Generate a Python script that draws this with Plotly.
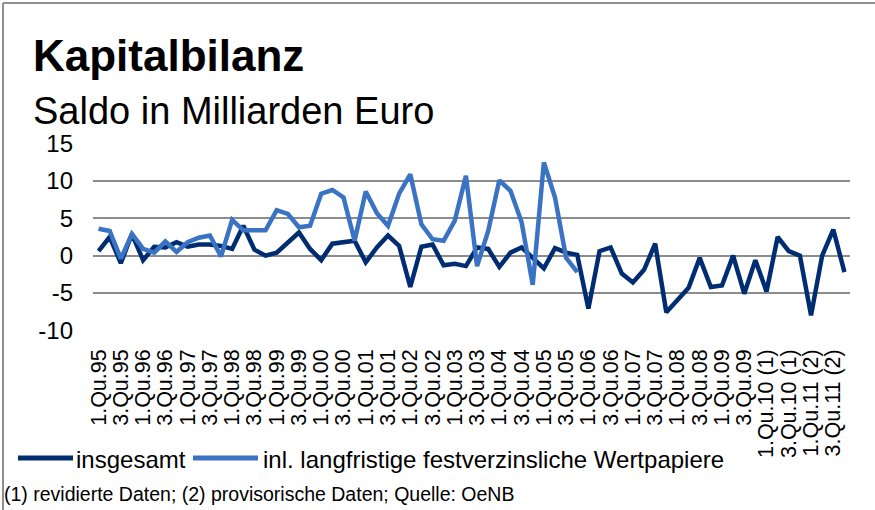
import plotly.graph_objects as go

# ---------------- data ----------------
years = [95, 96, 97, 98, 99, 0, 1, 2, 3, 4, 5, 6, 7, 8, 9, 10, 11]
year_suffix = {10: " (1)", 11: " (2)"}
categories = [f"{q}.Qu.{y:02d}{year_suffix.get(y, '')}" for y in years for q in (1, 2, 3, 4)]

tick_labels = [
    "1.Qu.95", "3.Qu.95", "1.Qu.96", "3.Qu.96", "1.Qu.97", "3.Qu.97",
    "1.Qu.98", "3.Qu.98", "1.Qu.99", "3.Qu.99", "1.Qu.00", "3.Qu.00",
    "1.Qu.01", "3.Qu.01", "1.Qu.02", "3.Qu.02", "1.Qu.03", "3.Qu.03",
    "1.Qu.04", "3.Qu.04", "1.Qu.05", "3.Qu.05", "1.Qu.06", "3.Qu.06",
    "1.Qu.07", "3.Qu.07", "1.Qu.08", "3.Qu.08", "1.Qu.09", "3.Qu.09",
    "1.Qu.10 (1)", "3.Qu.10 (1)", "1.Qu.11 (2)", "3.Qu.11 (2)",
]

insgesamt = [
    0.6, 2.5, -1.0, 2.9, -0.6, 1.2, 1.1, 1.8, 1.2, 1.5, 1.5, 1.3,
    0.9, 4.0, 0.8, 0.0, 0.4, 1.8, 3.1, 0.9, -0.6, 1.6, 1.8, 2.0,
    -0.9, 1.1, 2.7, 1.3, -4.2, 1.2, 1.5, -1.3, -1.1, -1.4, 1.1, 0.9,
    -1.5, 0.4, 1.1, -0.4, -1.7, 1.0, 0.4, 0.1, -7.1, 0.6, 1.1, -2.4,
    -3.6, -1.9, 1.6, -7.6, -6.0, -4.3, -0.3, -4.2, -4.0, 0.0, -5.1, -0.6,
    -4.8, 2.5, 0.6, 0.0, -8.0, 0.0, 3.5, -2.2,
]

wertpapiere = [
    3.6, 3.3, -0.4, 2.9, 0.9, 0.4, 1.9, 0.5, 1.8, 2.4, 2.7, -0.1,
    4.8, 3.4, 3.4, 3.4, 6.1, 5.6, 3.8, 4.0, 8.3, 8.8, 7.8, 2.0,
    8.6, 5.7, 4.0, 8.3, 10.9, 4.2, 2.2, 2.0, 4.7, 10.7, -1.4, 3.3,
    10.1, 8.7, 4.5, -3.9, 12.5, 7.8, -0.3, -2.2,
] + [None] * 24

y_ticks = [-10, -5, 0, 5, 10, 15]

# ---------------- layout geometry ----------------
W, H = 875, 510
ML, MR, MT, MB = 93, 25, 143, 179
PW, PH = W - ML - MR, H - MT - MB


def px_x(px):
    return (px - ML) / PW


def px_y(py):
    return (H - MB - py) / PH


DARK = "#002d72"
LIGHT = "#3a73c4"
FONT = "Liberation Sans, Arial, Helvetica, sans-serif"

fig = go.Figure()
fig.add_trace(go.Scatter(
    x=categories, y=insgesamt, mode="lines", name="insgesamt",
    line=dict(color=DARK, width=4.5), showlegend=False,
))
fig.add_trace(go.Scatter(
    x=categories, y=wertpapiere, mode="lines",
    name="inl. langfristige festverzinsliche Wertpapiere",
    line=dict(color=LIGHT, width=4.5), showlegend=False, connectgaps=False,
))

fig.update_layout(
    width=W, height=H,
    margin=dict(l=ML, r=MR, t=MT, b=MB, pad=0),
    paper_bgcolor="white", plot_bgcolor="white",
    font=dict(family=FONT, color="black"),
    showlegend=False,
)
fig.update_xaxes(
    type="category", range=[-0.5, len(categories) - 0.5],
    tickmode="array", tickvals=tick_labels, ticktext=tick_labels,
    tickangle=-90, tickfont=dict(size=21.5, family=FONT, color="black"),
    showgrid=False, zeroline=False, showline=False, ticks="",
    ticklabelstandoff=13, automargin=False,
)
fig.update_yaxes(
    range=[-10.1, 15.1], tickmode="array", tickvals=y_ticks,
    ticktext=[str(v) for v in y_ticks],
    tickfont=dict(size=24, family=FONT, color="black"),
    showgrid=True, gridcolor="#8c8c8c", gridwidth=1.6,
    zeroline=False, showline=False, ticks="", ticklabelstandoff=19,
    automargin=False,
)

# frame: top and left edges only
frame = dict(color="#8f8f8f", width=2)
fig.add_shape(type="line", xref="paper", yref="paper",
              x0=px_x(3), x1=px_x(W), y0=px_y(3), y1=px_y(3), line=frame, layer="below")
fig.add_shape(type="line", xref="paper", yref="paper",
              x0=px_x(3), x1=px_x(3), y0=px_y(3), y1=px_y(H), line=frame, layer="below")

anns = [
    dict(text="<b>Kapitalbilanz</b>", x=px_x(31), y=px_y(55), size=44),
    dict(text="Saldo in Milliarden Euro", x=px_x(31), y=px_y(111), size=38),
    dict(text="insgesamt", x=px_x(74), y=px_y(459), size=24),
    dict(text="inl. langfristige festverzinsliche Wertpapiere", x=px_x(261), y=px_y(459), size=24),
    dict(text="(1) revidierte Daten; (2) provisorische Daten; Quelle: OeNB", x=px_x(2), y=px_y(494), size=19.5),
]
for a in anns:
    fig.add_annotation(text=a["text"], x=a["x"], y=a["y"], xref="paper", yref="paper",
                       xanchor="left", yanchor="middle", showarrow=False,
                       font=dict(size=a["size"], family=FONT, color="black"))

# legend samples
for x0, x1, col in [(18, 73, DARK), (193, 258, LIGHT)]:
    fig.add_shape(type="line", xref="paper", yref="paper",
                  x0=px_x(x0), x1=px_x(x1), y0=px_y(458), y1=px_y(458),
                  line=dict(color=col, width=5))

fig.write_html(
    "out.html",
    config={"displayModeBar": False},
    post_script="document.body.style.margin='0';document.body.style.overflow='hidden';",
)
